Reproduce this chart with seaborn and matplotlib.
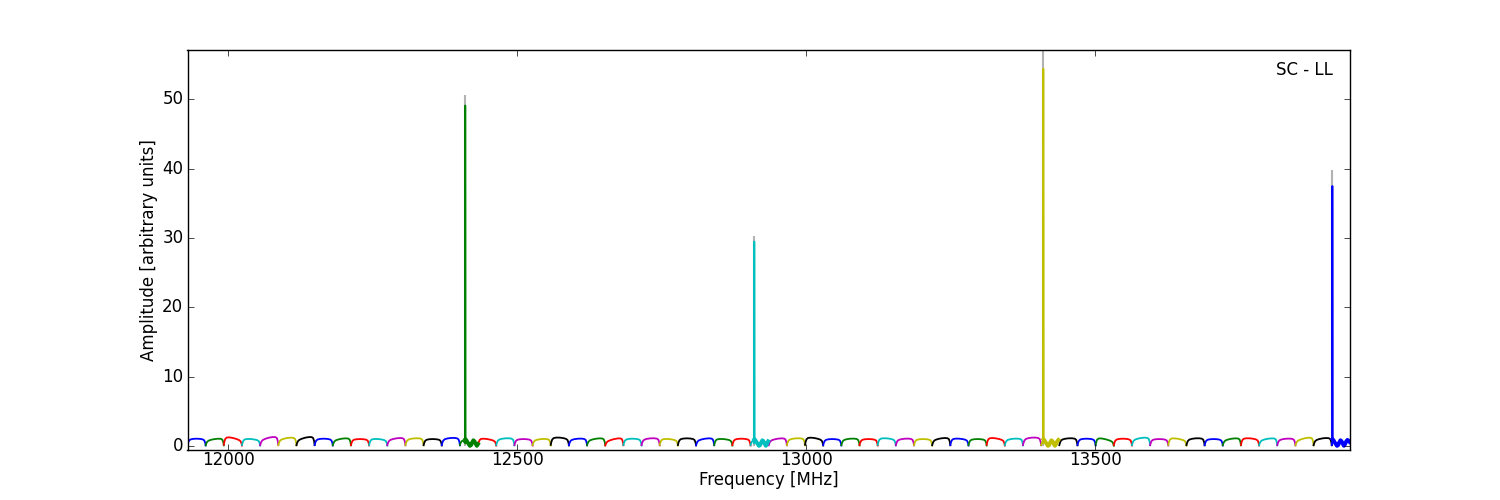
import matplotlib
matplotlib.use("Agg")
import matplotlib.pyplot as plt
import seaborn as sns
import numpy as np
import pandas as pd

# --- data --------------------------------------------------------------
band_start = 11929.5          # MHz, left edge of first sub-band
band_width = 31.42            # MHz per sub-band
n_bands = 64

# normalised bandpass shape of one sub-band (fraction across band, amplitude)
profile_pos = [0.0, 0.03, 0.08, 0.16, 0.3, 0.5, 0.7, 0.84, 0.92, 0.97, 1.0]
profile_amp = [0.15, 0.45, 0.75, 0.92, 1.0, 1.03, 1.0, 0.93, 0.8, 0.5, 0.1]

# per-band peak level and slope across the band
band_level = [1.05, 1.0, 1.15, 1.0, 1.2, 1.15, 1.2, 1.05, 1.05, 1.0, 1.0, 1.1,
              1.1, 1.0, 1.15, 0.9, 1.0, 1.1, 1.0, 1.0, 1.2, 1.05, 1.05, 1.0,
              1.05, 1.1, 1.0, 1.1, 1.05, 1.0, 1.05, 0.9, 1.05, 1.1, 1.15, 1.0,
              1.05, 1.0, 1.1, 1.05, 1.0, 1.1, 1.05, 1.0, 1.1, 1.05, 1.2, 0.9,
              1.1, 1.05, 1.0, 1.05, 1.15, 1.0, 1.05, 1.1, 1.0, 1.05, 1.1, 1.05,
              1.05, 1.1, 1.1, 1.0]
band_tilt = [0.0, 0.2, -0.3, -0.1, 0.3, 0.2, 0.3, 0.0, 0.2, 0.0, -0.1, 0.2,
             0.1, 0.0, 0.1, 0.0, -0.2, 0.1, 0.0, 0.1, -0.1, 0.1, 0.2, 0.3,
             0.0, 0.1, -0.1, 0.0, 0.2, -0.1, 0.0, 0.0, 0.2, 0.1, -0.2, 0.0,
             0.1, 0.0, -0.1, 0.1, 0.0, 0.2, -0.1, 0.0, -0.2, 0.1, 0.1, 0.0,
             0.1, 0.0, -0.3, 0.0, 0.2, 0.0, -0.2, 0.1, 0.0, 0.2, -0.1, 0.2,
             0.1, 0.3, 0.2, 0.0]

# comb tones (spikes)
spike_freq = [12410.0, 12910.0, 13410.0, 13910.0]
spike_amp = [49.1, 29.5, 54.4, 37.5]       # coloured trace
spike_raw = [50.6, 30.3, 57.1, 39.8]       # grey trace underneath

# ringing after a tone: offset from the tone (MHz) and amplitude
ring_offset = [0.3, 2, 4, 6, 8, 10, 12, 14, 16, 18, 20, 22, 24, 26, 28, 30]
ring_amp = [1.0, 0.85, 0.55, 0.3, 0.05, 0.15, 0.55, 0.85, 0.7, 0.35, 0.05,
            0.3, 0.7, 0.9, 0.8, 0.6]

classic_colors = [(0, 0, 1), (0, 0.5, 0), (1, 0, 0), (0, 0.75, 0.75),
                  (0.75, 0, 0.75), (0.75, 0.75, 0), (0, 0, 0)]

# --- build the traces ----------------------------------------------------
main_rows, ring_rows = [], []
pos = np.array(profile_pos)
shape = np.array(profile_amp)
for b in range(n_bands):
    lo = band_start + b * band_width
    hi = lo + band_width
    name = f"b{b:02d}"
    xs = lo + pos * band_width
    ys = shape * (band_level[b] + band_tilt[b] * (pos - 0.5) * 2)
    tone = [f for f in spike_freq if lo <= f < hi]
    if not tone:
        main_rows += [(x, y, name) for x, y in zip(xs, ys)]
        continue
    k = spike_freq.index(tone[0])
    f = tone[0]
    keep = xs < f
    main_rows += [(x, y, name) for x, y in zip(xs[keep], ys[keep])]
    main_rows += [(f - 0.05, 0.4, name), (f, spike_amp[k], name),
                  (f + 0.3, ring_amp[0], name)]
    for off, a in zip(ring_offset, ring_amp):
        if f + off <= hi:
            ring_rows.append((f + off, a, name))

main_df = pd.DataFrame(main_rows, columns=["freq", "amp", "band"])
ring_df = pd.DataFrame(ring_rows, columns=["freq", "amp", "band"])
palette = {f"b{b:02d}": classic_colors[b % 7] for b in range(n_bands)}

# --- plot -------------------------------------------------------------
plt.style.use("classic")
fig, ax = plt.subplots(figsize=(15, 5), dpi=100)
fig.patch.set_facecolor("white")

ax.vlines(spike_freq, 0, spike_raw, color="0.7", linewidth=1.5, zorder=1)

sns.lineplot(data=main_df, x="freq", y="amp", hue="band", palette=palette,
             estimator=None, sort=False, legend=False, linewidth=1.3, ax=ax,
             zorder=2)
sns.lineplot(data=ring_df, x="freq", y="amp", hue="band",
             palette={k: palette[k] for k in ring_df["band"].unique()},
             estimator=None, sort=False, legend=False, linewidth=2.8, ax=ax,
             zorder=2)

ax.set_xlim(11929.5, 13940.5)
ax.set_ylim(-0.55, 57.1)
ax.set_xticks([12000, 12500, 13000, 13500])
ax.set_yticks([0, 10, 20, 30, 40, 50])
ax.tick_params(axis="x", pad=1)
ax.tick_params(axis="y", pad=3)
ax.set_xlabel("Frequency [MHz]", labelpad=1)
ax.set_ylabel("Amplitude [arbitrary units]", labelpad=3)
ax.text(0.985, 0.972, "SC - LL", transform=ax.transAxes, ha="right", va="top",
        fontsize=12)

fig.savefig("out.png", dpi=100, facecolor="white")
